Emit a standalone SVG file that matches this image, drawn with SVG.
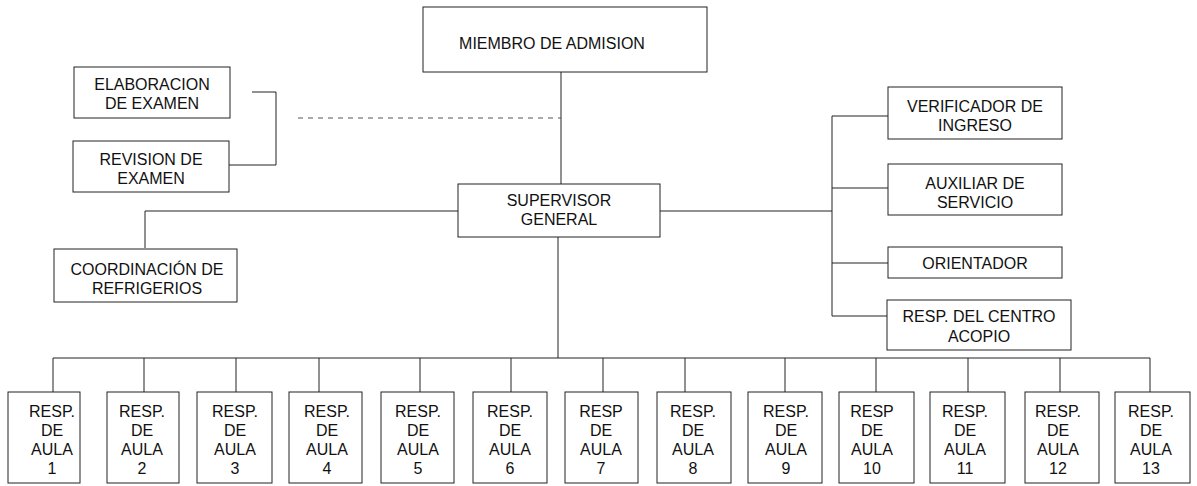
<svg xmlns="http://www.w3.org/2000/svg" width="1197" height="486" viewBox="0 0 1197 486">
<style>
.b{fill:#fff;stroke:#222;stroke-width:1}
.t{font-family:"Liberation Sans",Arial,sans-serif;font-size:16px;fill:#111;text-anchor:middle}
.c{fill:none;stroke:#222;stroke-width:1}
.d{fill:none;stroke:#555;stroke-width:1;stroke-dasharray:5,5}
</style>
<rect width="1197" height="486" fill="#fff"/>
<g id="connectors">
<path class="c" d="M561,72V184"/>
<path class="d" d="M298,118H561"/>
<path class="c" d="M252,92H276V165H229"/>
<path class="c" d="M145,248V211H458"/>
<path class="c" d="M660,211H832"/>
<path class="c" d="M888,116H832V316H888M832,188H888M832,263H888"/>
<path class="c" d="M558,237V358"/>
<path class="c" d="M53,358H1150"/>
<path class="c" d="M53,358V392M144,358V392M236,358V392M319,358V392M420,358V392M511,358V392M603,358V392M685,358V392M785,358V392M876,358V392M968,358V392M1060,358V392M1150,358V392"/>
</g>
<g id="miembro"><rect class="b" x="423" y="7" width="284" height="65"/><text class="t" x="552" y="49">MIEMBRO DE ADMISION</text></g>
<g id="elaboracion"><rect class="b" x="74" y="67" width="156" height="51"/><text class="t" x="152" y="90">ELABORACION</text><text class="t" x="152" y="109">DE EXAMEN</text></g>
<g id="revision"><rect class="b" x="73" y="141" width="156" height="51"/><text class="t" x="151" y="165">REVISION DE</text><text class="t" x="151" y="184">EXAMEN</text></g>
<g id="coordinacion"><rect class="b" x="54" y="249" width="183" height="53"/><text class="t" x="147" y="275">COORDINACIÓN DE</text><text class="t" x="147" y="294">REFRIGERIOS</text></g>
<g id="supervisor"><rect class="b" x="458" y="184" width="202" height="53"/><text class="t" x="559" y="206">SUPERVISOR</text><text class="t" x="559" y="225">GENERAL</text></g>
<g id="verificador"><rect class="b" x="888" y="87" width="174" height="52"/><text class="t" x="975" y="112">VERIFICADOR DE</text><text class="t" x="975" y="131">INGRESO</text></g>
<g id="auxiliar"><rect class="b" x="888" y="164" width="174" height="51"/><text class="t" x="975" y="189">AUXILIAR DE</text><text class="t" x="975" y="208">SERVICIO</text></g>
<g id="orientador"><rect class="b" x="888" y="247" width="174" height="31"/><text class="t" x="975" y="269">ORIENTADOR</text></g>
<g id="acopio"><rect class="b" x="887" y="300" width="184" height="50"/><text class="t" x="979" y="322">RESP. DEL CENTRO</text><text class="t" x="979" y="342">ACOPIO</text></g>
<g id="aula1"><rect class="b" x="8" y="392" width="72" height="91"/><text class="t" x="52" y="417">RESP.</text><text class="t" x="52" y="436">DE</text><text class="t" x="52" y="455">AULA</text><text class="t" x="52" y="474">1</text></g>
<g id="aula2"><rect class="b" x="107" y="392" width="72" height="91"/><text class="t" x="142" y="417">RESP.</text><text class="t" x="142" y="436">DE</text><text class="t" x="142" y="455">AULA</text><text class="t" x="142" y="474">2</text></g>
<g id="aula3"><rect class="b" x="197" y="392" width="75" height="91"/><text class="t" x="235" y="417">RESP.</text><text class="t" x="235" y="436">DE</text><text class="t" x="235" y="455">AULA</text><text class="t" x="235" y="474">3</text></g>
<g id="aula4"><rect class="b" x="289" y="392" width="73" height="91"/><text class="t" x="327" y="417">RESP.</text><text class="t" x="327" y="436">DE</text><text class="t" x="327" y="455">AULA</text><text class="t" x="327" y="474">4</text></g>
<g id="aula5"><rect class="b" x="381" y="392" width="73" height="91"/><text class="t" x="418" y="417">RESP.</text><text class="t" x="418" y="436">DE</text><text class="t" x="418" y="455">AULA</text><text class="t" x="418" y="474">5</text></g>
<g id="aula6"><rect class="b" x="473" y="392" width="74" height="91"/><text class="t" x="510" y="417">RESP.</text><text class="t" x="510" y="436">DE</text><text class="t" x="510" y="455">AULA</text><text class="t" x="510" y="474">6</text></g>
<g id="aula7"><rect class="b" x="565" y="392" width="73" height="91"/><text class="t" x="601" y="417">RESP</text><text class="t" x="601" y="436">DE</text><text class="t" x="601" y="455">AULA</text><text class="t" x="601" y="474">7</text></g>
<g id="aula8"><rect class="b" x="657" y="392" width="74" height="91"/><text class="t" x="693" y="417">RESP.</text><text class="t" x="693" y="436">DE</text><text class="t" x="693" y="455">AULA</text><text class="t" x="693" y="474">8</text></g>
<g id="aula9"><rect class="b" x="748" y="392" width="74" height="91"/><text class="t" x="786" y="417">RESP.</text><text class="t" x="786" y="436">DE</text><text class="t" x="786" y="455">AULA</text><text class="t" x="786" y="474">9</text></g>
<g id="aula10"><rect class="b" x="839" y="392" width="75" height="91"/><text class="t" x="872" y="417">RESP</text><text class="t" x="872" y="436">DE</text><text class="t" x="872" y="455">AULA</text><text class="t" x="872" y="474">10</text></g>
<g id="aula11"><rect class="b" x="930" y="392" width="75" height="91"/><text class="t" x="965" y="417">RESP.</text><text class="t" x="965" y="436">DE</text><text class="t" x="965" y="455">AULA</text><text class="t" x="965" y="474">11</text></g>
<g id="aula12"><rect class="b" x="1025" y="392" width="74" height="91"/><text class="t" x="1058" y="417">RESP.</text><text class="t" x="1058" y="436">DE</text><text class="t" x="1058" y="455">AULA</text><text class="t" x="1058" y="474">12</text></g>
<g id="aula13"><rect class="b" x="1115" y="392" width="75" height="91"/><text class="t" x="1151" y="417">RESP.</text><text class="t" x="1151" y="436">DE</text><text class="t" x="1151" y="455">AULA</text><text class="t" x="1151" y="474">13</text></g>
</svg>
